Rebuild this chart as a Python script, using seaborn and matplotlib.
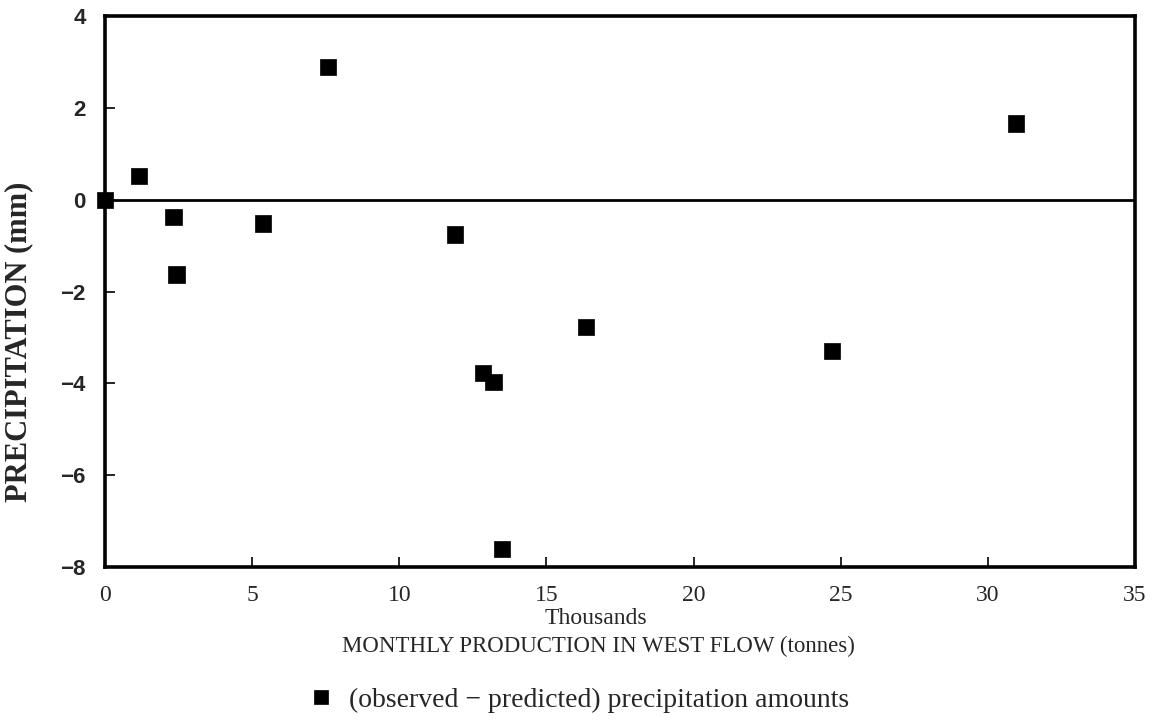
import matplotlib
matplotlib.use("Agg")
import matplotlib.pyplot as plt
import seaborn as sns
import pandas as pd

# Data
production_thousands = [0.0, 1.15, 2.33, 2.43, 5.36, 7.57, 11.9, 12.85, 13.2, 13.5, 16.35, 24.7, 30.95]
precip_residual = [0.0, 0.51, -0.37, -1.63, -0.52, 2.88, -0.76, -3.78, -3.97, -7.6, -2.77, -3.30, 1.66]
x_ticks = [0, 5, 10, 15, 20, 25, 30, 35]
y_ticks = [-8, -6, -4, -2, 0, 2, 4]
series_label = "(observed \u2212 predicted) precipitation amounts"

df = pd.DataFrame({"x": production_thousands, "y": precip_residual,
                   "series": series_label})

sns.set_theme(style="ticks")
plt.rcParams["font.family"] = ["Liberation Serif", "DejaVu Serif"]

fig = plt.figure(figsize=(11.58, 7.25), dpi=100)
ax = fig.add_axes([105 / 1158, 1 - 567 / 725, (1135 - 105) / 1158, (567 - 16) / 725])

ax.axhline(0, color="black", lw=2.0, zorder=1)
sns.scatterplot(data=df, x="x", y="y", hue="series", palette=["black"],
                marker="s", s=135, edgecolor="black", linewidth=0.5,
                ax=ax, zorder=3, clip_on=False, legend=True)

ax.set_xlim(0, 35)
ax.set_ylim(-8, 4)
ax.set_xticks(x_ticks)
ax.set_yticks(y_ticks)
ax.set_xticklabels([str(t) for t in x_ticks], fontsize=17)
ax.set_yticklabels([str(t).replace("-", "\u2212") for t in y_ticks], fontsize=16,
                   fontweight="bold", family=["Liberation Sans", "DejaVu Sans"])
ax.tick_params(axis="both", direction="in", length=7, width=1.2, color="black")
ax.tick_params(axis="x", pad=13)
ax.tick_params(axis="y", pad=14)

for sp in ax.spines.values():
    sp.set_visible(True)
    sp.set_linewidth(2.6)
    sp.set_color("black")

ax.set_xlabel("")
ax.set_ylabel("")
fig.text(19 / 1158, 1 - 342 / 725, "PRECIPITATION (mm)", rotation=90,
         ha="center", va="center", fontsize=22, fontweight="bold")

fig.text(596 / 1158, 1 - 619 / 725, "Thousands", ha="center", va="center", fontsize=17)
fig.text(598 / 1158, 1 - 646 / 725, "MONTHLY PRODUCTION IN WEST FLOW (tonnes)",
         ha="center", va="center", fontsize=16.5)

handles, labels = ax.get_legend_handles_labels()
ax.get_legend().remove()
leg = fig.legend(handles, labels, loc="center", bbox_to_anchor=(578 / 1158, 1 - 700 / 725),
                 frameon=False, fontsize=20, handletextpad=0.5, markerscale=0.85,
                 handlelength=1.0)

fig.savefig("out.png", dpi=100, facecolor="white")
